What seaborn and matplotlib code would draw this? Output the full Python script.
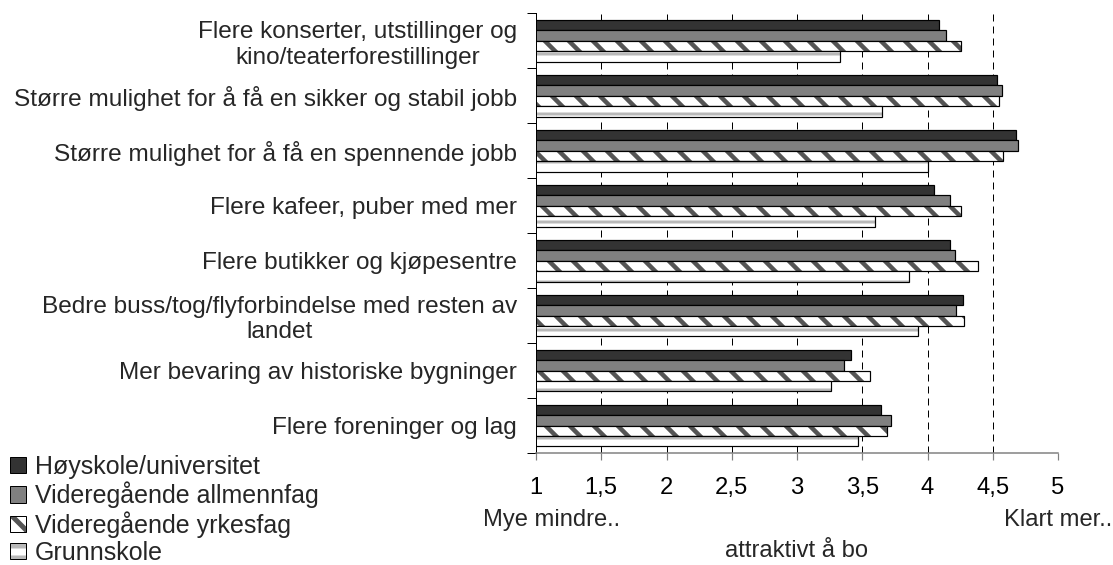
import numpy as np
import pandas as pd
import matplotlib
matplotlib.use("Agg")
import matplotlib.pyplot as plt
from matplotlib.patches import Patch
from matplotlib.colors import to_rgba
import seaborn as sns

# ---------------- data ----------------
categories = [
    "Flere konserter, utstillinger og\nkino/teaterforestillinger",
    "Større mulighet for å få en sikker og stabil jobb",
    "Større mulighet for å få en spennende jobb",
    "Flere kafeer, puber med mer",
    "Flere butikker og kjøpesentre",
    "Bedre buss/tog/flyforbindelse med resten av\nlandet",
    "Mer bevaring av historiske bygninger",
    "Flere foreninger og lag",
]
groups = ["Høyskole/universitet", "Videregående allmennfag",
          "Videregående yrkesfag", "Grunnskole"]
hoyskole = [4.09, 4.53, 4.68, 4.05, 4.17, 4.27, 3.41, 3.64]
allmennfag = [4.14, 4.57, 4.69, 4.17, 4.21, 4.22, 3.36, 3.72]
yrkesfag = [4.26, 4.55, 4.58, 4.26, 4.39, 4.28, 3.56, 3.69]
grunnskole = [3.33, 3.65, 4.00, 3.60, 3.86, 3.93, 3.26, 3.47]
tick_values = [1, 1.5, 2, 2.5, 3, 3.5, 4, 4.5, 5]
tick_labels = ["1", "1,5", "2", "2,5", "3", "3,5", "4", "4,5", "5"]

df = pd.DataFrame({
    "kategori": categories * 4,
    "gruppe": sum([[g] * len(categories) for g in groups], []),
    "verdi": hoyskole + allmennfag + yrkesfag + grunnskole,
})

# ---------------- style ----------------
sns.set_theme(style="white")
plt.rcParams["font.family"] = ["Liberation Sans", "DejaVu Sans"]
plt.rcParams["hatch.linewidth"] = 5.0
FS = 23.8
FS_CAT = 24.4
FS_LEG = 25

DPI = 72
W, H = 1113, 565
fig = plt.figure(figsize=(W / DPI, H / DPI), dpi=DPI)
ax_l, ax_r, ax_t, ax_b = 536, 1058, 13.3, 453
ax = fig.add_axes([ax_l / W, 1 - ax_b / H, (ax_r - ax_l) / W, (ax_b - ax_t) / H])

face = {"Høyskole/universitet": "#333333", "Videregående allmennfag": "#808080",
        "Videregående yrkesfag": "#ffffff", "Grunnskole": "#ffffff"}
hatches = [None, None, "\\", "-"]
hatch_cols = [None, None, "#555555", "#b8b8b8"]
hatch_lws = [None, None, 4.5, 3.0]

sns.barplot(data=df, y="kategori", x="verdi", hue="gruppe", order=categories,
            hue_order=groups, palette=face, saturation=1, orient="h",
            width=0.76, edgecolor="black", linewidth=1.2, legend=False, ax=ax,
            errorbar=None)


def apply_hatch(p, h, hc, hl):
    p.set_hatch(h)
    p._hatch_color = to_rgba(hc)
    if hasattr(p, "set_hatch_linewidth"):
        p.set_hatch_linewidth(hl)
    else:
        p._hatch_linewidth = hl


for cont, h, hc, hl in zip(ax.containers, hatches, hatch_cols, hatch_lws):
    if h is None:
        continue
    for p in cont:
        apply_hatch(p, h, hc, hl)

# gridlines (dashed, behind bars)
for v in tick_values[1:]:
    ax.axvline(v, color="black", lw=1.0, ls=(0, (7, 5)), zorder=0.5)

ax.set_xlim(1, 5)
ax.set_xticks(tick_values)
ax.set_xticklabels(tick_labels, fontsize=FS)
ax.tick_params(axis="x", direction="out", length=7, width=1.2, color="#808080",
               pad=17, labelcolor="black", bottom=True)

n = len(categories)
ax.set_yticks(np.arange(-0.5, n, 1.0))
ax.set_yticklabels([])
ax.set_yticks(np.arange(n), labels=categories, minor=True)
for t in ax.get_yticklabels(minor=True):
    t.set_fontsize(FS_CAT)
    t.set_multialignment("center")
ax.tick_params(axis="y", which="major", direction="out", length=9, width=1.0,
               color="black", left=True)
ax.tick_params(axis="y", which="minor", length=0, pad=19, left=True)
ax.set_ylim(n - 0.5, -0.5)
ax.set_ylabel("")

for s in ["top", "right"]:
    ax.spines[s].set_visible(False)
ax.spines["left"].set_color("black")
ax.spines["left"].set_linewidth(1.0)
ax.spines["bottom"].set_color("#808080")
ax.spines["bottom"].set_linewidth(1.5)

ax.set_xlabel("attraktivt å bo", fontsize=FS)
ax.xaxis.label.set_va("center")
ax.xaxis.set_label_coords(0.5, -(551 - ax_b) / (ax_b - ax_t))

fig.text(483 / W, 1 - 520 / H, "Mye mindre..", ha="left", va="center", fontsize=FS)
fig.text(1112 / W, 1 - 520 / H, "Klart mer..", ha="right", va="center", fontsize=FS)

# legend
handles = []
for g, h, hc, hl in zip(groups, hatches, hatch_cols, hatch_lws):
    p = Patch(facecolor=face[g], edgecolor="black", linewidth=1.0, label=g)
    if h is not None:
        apply_hatch(p, h, hc, hl)
    handles.append(p)
fig.legend(handles=handles, loc="upper left", bbox_to_anchor=(10 / W, 1 - 455 / H),
           frameon=False, fontsize=FS_LEG, handlelength=0.64, handleheight=0.64,
           handletextpad=0.36, labelspacing=0.11, borderpad=0, borderaxespad=0)

fig.savefig("out.png", dpi=DPI)
